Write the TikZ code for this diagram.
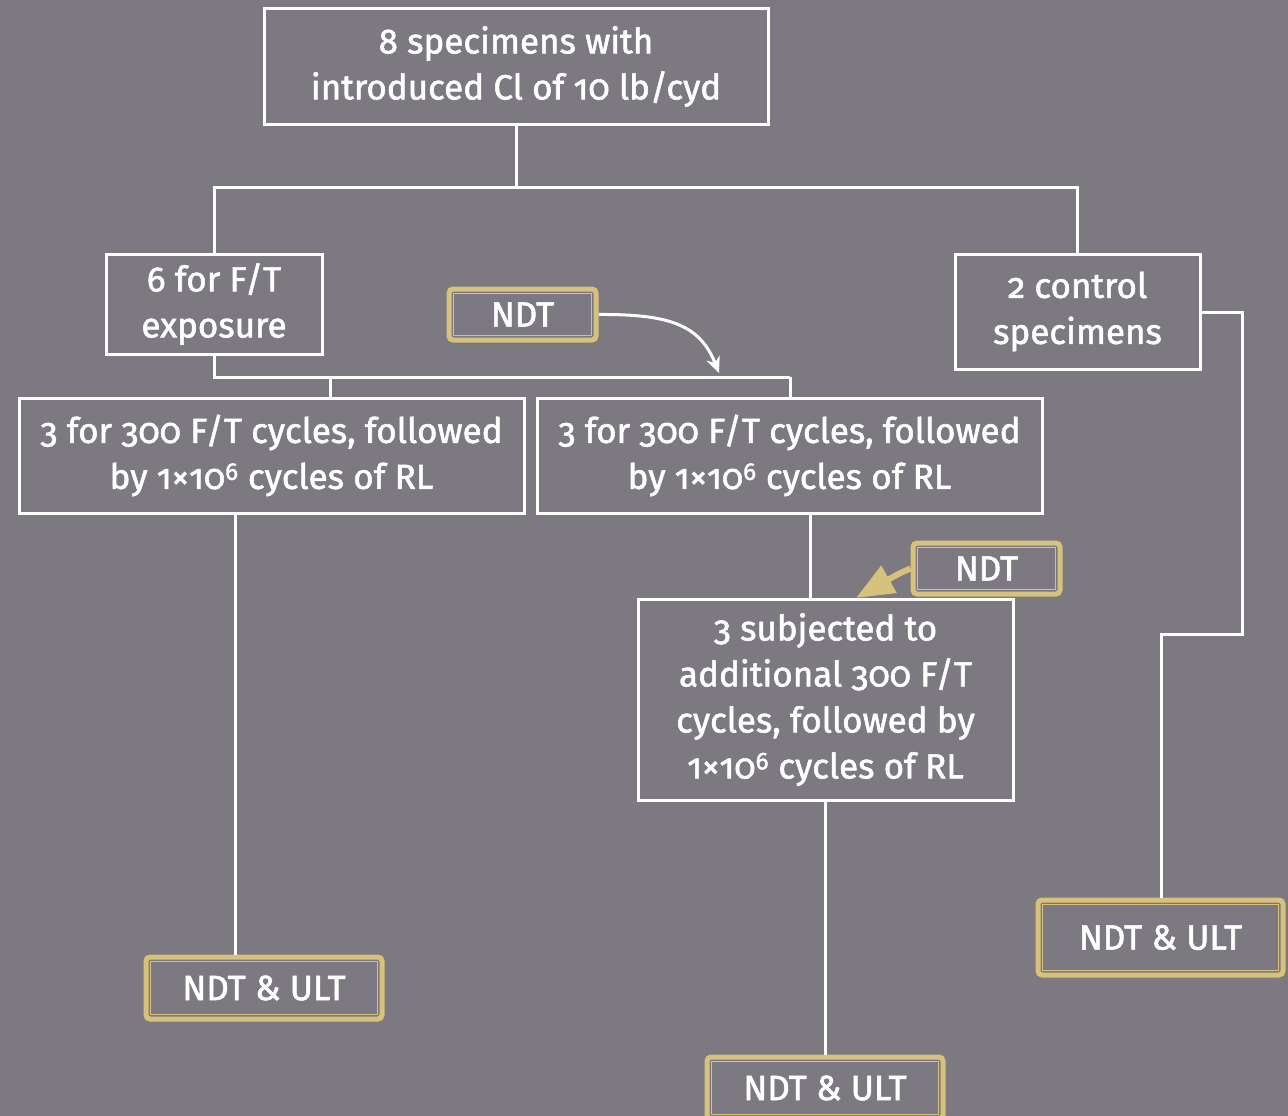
\documentclass[tikz,border=0pt]{standalone}
\usepackage{fontspec}
\setmainfont{Fira Sans}[Numbers=OldStyle, UprightFeatures={FakeBold=1.6}]
\usetikzlibrary{arrows.meta,calc}
\definecolor{bg}{HTML}{7C7980}
\definecolor{gold}{HTML}{D6C27A}
\newcommand{\sixsup}{\textsuperscript{\addfontfeature{Numbers=Lining}6}}
\begin{document}
\begin{tikzpicture}[x=1pt,y=-1pt,
  every node/.style={font=\fontsize{35}{46}\selectfont, text=white, align=center, inner sep=0pt},
  wbox/.style={draw=white, line width=3pt, minimum width=#1},
  gbox/.style={draw=gold, line width=5pt, rounded corners=4pt},
  conn/.style={white, line width=3pt}]
\fill[bg] (0,0) rectangle (1288,1116);
\useasboundingbox (0,0) rectangle (1288,1116);

\node[wbox=504, minimum height=115] (top) at (516,66.5) {8 specimens with\\introduced Cl of 10 lb/cyd};
\node[wbox=216, minimum height=100] (six) at (214,304) {6 for F/T\\exposure};
\node[wbox=245, minimum height=115] (ctrl) at (1077.5,311.5) {2 control\\specimens};
\node[wbox=505, minimum height=115] (A) at (271.5,455.5) {3 for 300 F/T cycles, followed\\by 1×10\sixsup{} cycles of RL};
\node[wbox=505, minimum height=115] (B) at (789.5,455.5) {3 for 300 F/T cycles, followed\\by 1×10\sixsup{} cycles of RL};
\node[wbox=375, minimum height=201] (C) at (825.5,699.5) {3 subjected to\\additional 300 F/T\\cycles, followed by\\1×10\sixsup{} cycles of RL};

\node[gbox, minimum width=147, minimum height=51] (ndt1) at (522.5,314.5) {NDT};
\node[gbox, minimum width=147, minimum height=51] (ndt2) at (986.5,568.5) {NDT};
\node[gbox, minimum width=236, minimum height=62] (u1) at (264,988) {NDT \& ULT};
\node[gbox, minimum width=245, minimum height=75] (u2) at (1160.5,937.5) {NDT \& ULT};
\node[gbox, minimum width=236, minimum height=62] (u3) at (825,1088) {NDT \& ULT};
\foreach \n in {ndt1,ndt2,u1,u2,u3}{
  \draw[gold, line width=1.5pt] ($(\n.north west)+(7,7)$) rectangle ($(\n.south east)+(-7,-7)$);
}

\coordinate (j1) at (516,187);
\draw[conn] (top.south) -- (j1);
\draw[conn] (j1) -| (six.north);
\draw[conn] (j1) -| (ctrl.north);

\coordinate (j2) at (214,377);
\coordinate (j2a) at (330,377);
\coordinate (j2b) at (790,377);
\draw[conn] (six.south) -- (j2) -- (j2b);
\draw[conn] (j2a) -- (j2a |- A.north);
\draw[conn] (j2b) -- (j2b |- B.north);

\coordinate (jA) at (235,513);
\draw[conn] (jA) -- (jA |- u1.north);
\coordinate (jB) at (810,513);
\draw[conn] (jB) -- (jB |- C.north);
\coordinate (jC) at (825,800);
\draw[conn] (jC) -- (u3.north);

\coordinate (r1) at (1242,312);
\coordinate (r2) at (1242,634);
\coordinate (r3) at (1161,634);
\draw[conn] (ctrl.east |- r1) -- (r1) -- (r2) -- (r3) -- (r3 |- u2.north);

\coordinate (a1) at (719,373);
\draw[white, line width=3pt, -{Stealth[length=16pt,width=14pt]}] (ndt1.east) .. controls (670,314) and (700,325) .. (a1);
\coordinate (a2) at (856,598);
\draw[gold, line width=6pt, -{Triangle[length=38pt,width=30pt]}] (ndt2.west) .. controls (900,573) .. (a2);
\end{tikzpicture}
\end{document}
